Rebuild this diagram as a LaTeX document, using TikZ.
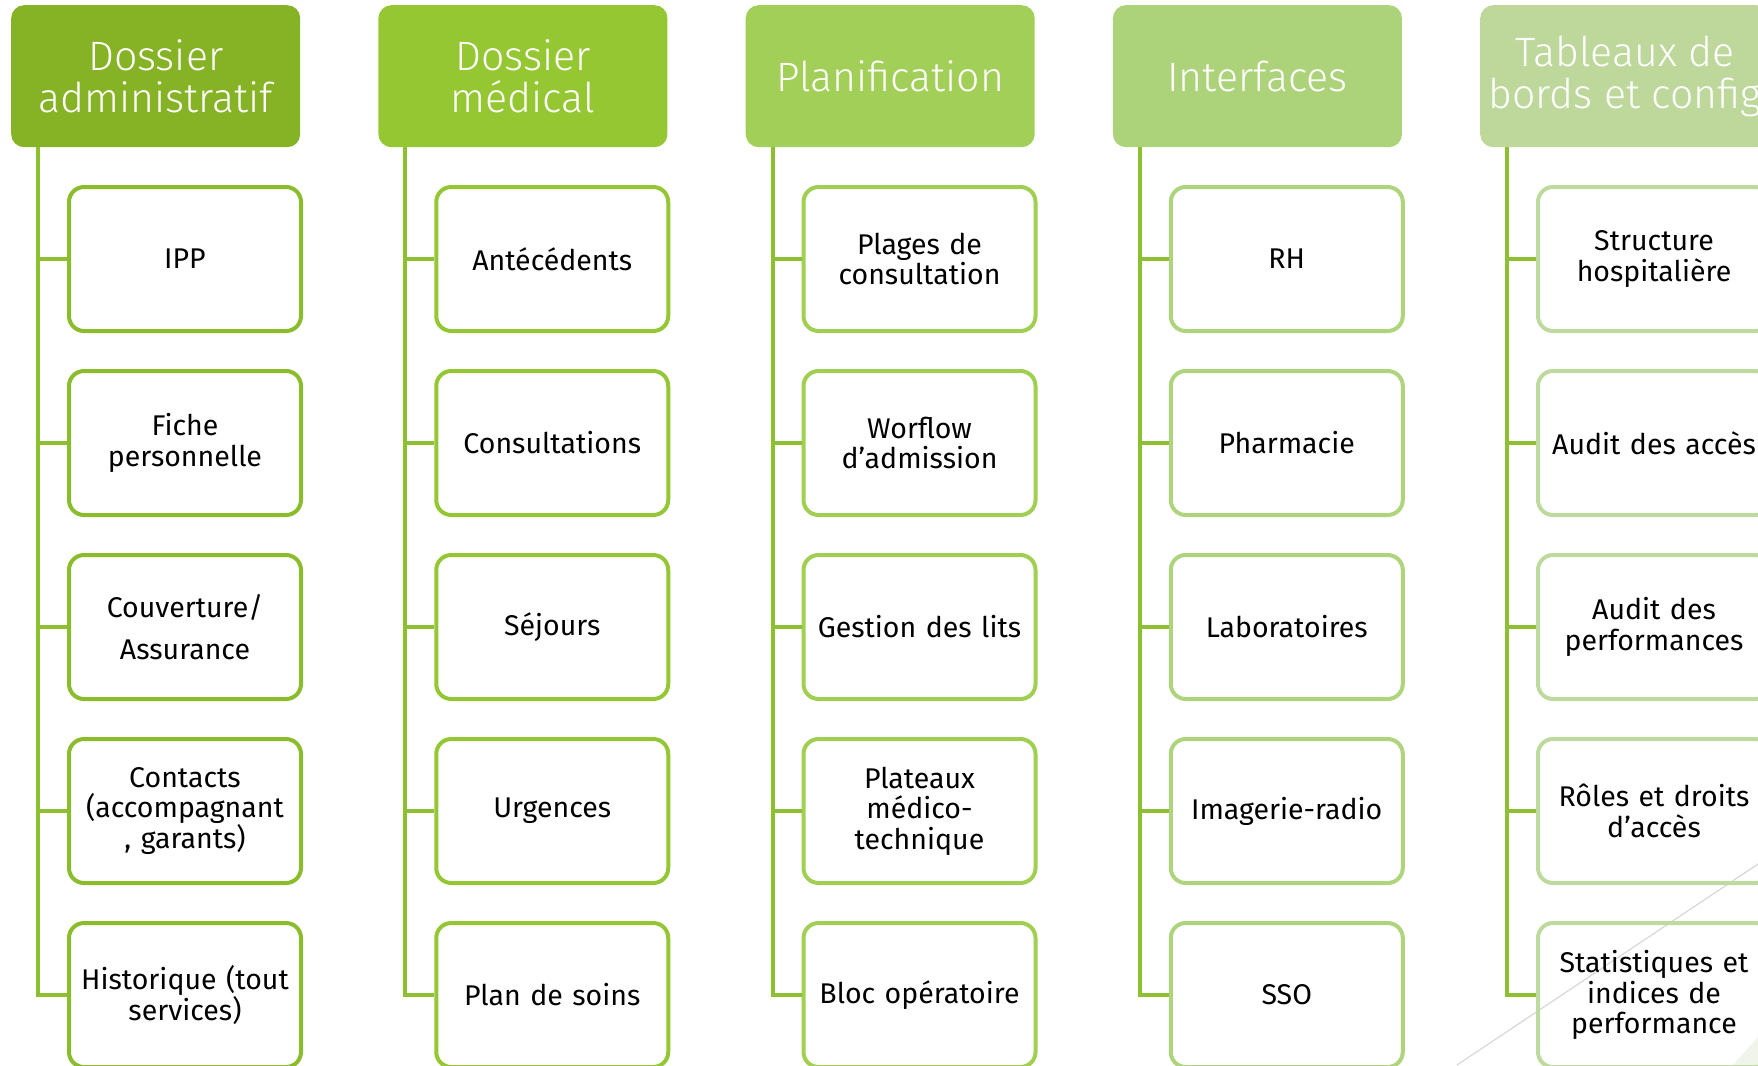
\documentclass[tikz,border=0pt]{standalone}
\usepackage{fontspec}
\setmainfont{Fira Sans}
\newfontfamily\hfont{Fira Sans Light}
\definecolor{hc1}{RGB}{134,178,38}
\definecolor{hc2}{RGB}{148,199,50}
\definecolor{hc3}{RGB}{162,207,87}
\definecolor{hc4}{RGB}{173,211,122}
\definecolor{hc5}{RGB}{189,216,154}
\definecolor{bc1}{RGB}{139,188,44}
\definecolor{bc2}{RGB}{148,199,52}
\definecolor{bc3}{RGB}{160,207,82}
\definecolor{bc4}{RGB}{174,212,124}
\definecolor{bc5}{RGB}{190,218,158}
\definecolor{connc}{RGB}{141,192,48}
\definecolor{decoline}{RGB}{215,215,215}
\definecolor{decofill}{RGB}{240,244,235}
\begin{document}
\begin{tikzpicture}[x=1pt,y=-1pt,
  hdr/.style={rectangle, rounded corners=13pt, minimum width=289pt, minimum height=142pt,
    inner sep=0pt, text=white, font=\hfont\fontsize{41}{42}\selectfont, align=center,
    anchor=north west, fill=#1},
  item/.style={rectangle, rounded corners=15pt, line width=4pt, minimum width=232pt,
    minimum height=144pt, inner sep=0pt, text width=228pt, align=center,
    font=\fontsize{28.5}{30.5}\selectfont, draw=#1},
  conn/.style={line width=4pt, draw=connc}]
\useasboundingbox (0,0) rectangle (1758,1065);
\clip (0,0) rectangle (1758,1065);
% decorations
\fill[decofill] (1733,1065) -- (1758,1037) -- (1758,1065) -- cycle;
\draw[decoline, line width=1.2pt] (1457,1065) -- (1758,864);
% headers
\node[hdr=hc1] (h1) at (11,5) {Dossier\\administratif};
\node[hdr=hc2] (h2) at (378.25,5) {Dossier\\médical};
\node[hdr=hc3] (h3) at (745.5,5) {Planification};
\node[hdr=hc4] (h4) at (1112.75,5) {Interfaces};
\node[hdr=hc5] (h5) at (1480,5) {Tableaux de\\bords et config};
% column 1
\node[item=bc1] (b11) at (185,259) {IPP};
\node[item=bc1] (b12) at (185,443) {Fiche\\personnelle};
\node[item=bc1] (b13) at (185,627) {Couverture/\\[11pt]Assurance};
\node[item=bc1] (b14) at (185,811) {Contacts\\(accompagnant\\, garants)};
\node[item=bc1] (b15) at (185,995) {Historique (tout\\services)};
% column 2
\node[item=bc2] (b21) at (552.25,259) {Antécédents};
\node[item=bc2] (b22) at (552.25,443) {Consultations};
\node[item=bc2] (b23) at (552.25,627) {Séjours};
\node[item=bc2] (b24) at (552.25,811) {Urgences};
\node[item=bc2] (b25) at (552.25,995) {Plan de soins};
% column 3
\node[item=bc3] (b31) at (919.5,259) {Plages de\\consultation};
\node[item=bc3] (b32) at (919.5,443) {Worflow\\d’admission};
\node[item=bc3] (b33) at (919.5,627) {Gestion des lits};
\node[item=bc3] (b34) at (919.5,811) {Plateaux\\médico-\\technique};
\node[item=bc3] (b35) at (919.5,995) {Bloc opératoire};
% column 4
\node[item=bc4] (b41) at (1286.75,259) {RH};
\node[item=bc4] (b42) at (1286.75,443) {Pharmacie};
\node[item=bc4] (b43) at (1286.75,627) {Laboratoires};
\node[item=bc4] (b44) at (1286.75,811) {Imagerie-radio};
\node[item=bc4] (b45) at (1286.75,995) {SSO};
% column 5
\node[item=bc5] (b51) at (1654,259) {Structure\\hospitalière};
\node[item=bc5] (b52) at (1654,443) {Audit des accès};
\node[item=bc5] (b53) at (1654,627) {Audit des\\performances};
\node[item=bc5] (b54) at (1654,811) {Rôles et droits\\d’accès};
\node[item=bc5] (b55) at (1654,995) {Statistiques et\\indices de\\performance};
% trunk coordinates under each header
\coordinate (t1) at (38,147);
\coordinate (t2) at (405.25,147);
\coordinate (t3) at (772.5,147);
\coordinate (t4) at (1139.75,147);
\coordinate (t5) at (1507,147);
\foreach \c in {1,...,5}{
  \draw[conn] (t\c) |- (b\c5.west);
  \foreach \r in {1,...,4}{
    \draw[conn] (t\c |- b\c\r.west) -- (b\c\r.west);
  }
}
\end{tikzpicture}
\end{document}
